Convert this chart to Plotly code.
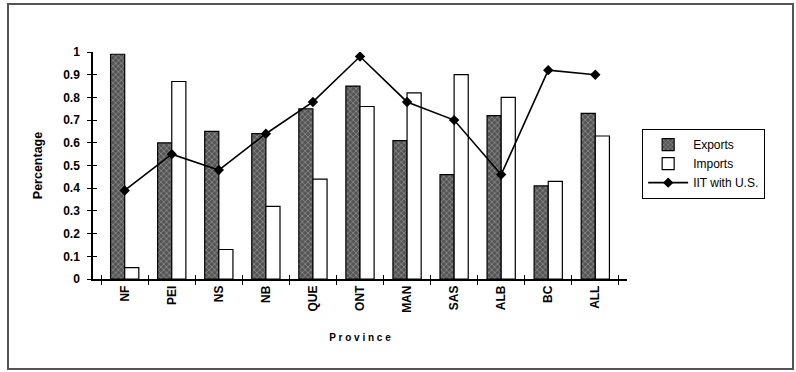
import plotly.graph_objects as go

provinces = ["NF", "PEI", "NS", "NB", "QUE", "ONT", "MAN", "SAS", "ALB", "BC", "ALL"]
exports = [0.99, 0.60, 0.65, 0.64, 0.75, 0.85, 0.61, 0.46, 0.72, 0.41, 0.73]
imports = [0.05, 0.87, 0.13, 0.32, 0.44, 0.76, 0.82, 0.90, 0.80, 0.43, 0.63]
iit_us = [0.39, 0.55, 0.48, 0.64, 0.78, 0.98, 0.78, 0.70, 0.46, 0.92, 0.90]
y_ticks = [0, 0.1, 0.2, 0.3, 0.4, 0.5, 0.6, 0.7, 0.8, 0.9, 1]
y_tick_text = ["0", "0.1", "0.2", "0.3", "0.4", "0.5", "0.6", "0.7", "0.8", "0.9", "1"]

FONT = "Liberation Sans, Arial, sans-serif"

fig = go.Figure()
fig.add_trace(go.Bar(
    x=provinces, y=exports, name="Exports",
    marker=dict(color="#6a6a6a", line=dict(color="black", width=1.2),
                pattern=dict(shape="x", size=4, solidity=0.35,
                             fgcolor="#c8c8c8", bgcolor="#555555")),
))
fig.add_trace(go.Bar(
    x=provinces, y=imports, name="Imports",
    marker=dict(color="white", line=dict(color="black", width=1.2)),
))
fig.add_trace(go.Scatter(
    x=provinces, y=iit_us, name="IIT with U.S.", mode="lines+markers",
    line=dict(color="black", width=1.6),
    marker=dict(symbol="diamond", size=8, color="black"),
))
# invisible trace on the overlay axes so their crossing tick marks render
fig.add_trace(go.Scatter(x=provinces, y=[None] * len(provinces), xaxis="x2", yaxis="y2",
                         showlegend=False, hoverinfo="skip"))

fig.update_layout(
    width=796, height=372,
    margin=dict(l=93, r=169, t=52, b=93, autoexpand=False),
    paper_bgcolor="white", plot_bgcolor="white",
    barmode="group", bargap=0.4, bargroupgap=0,
    font=dict(family=FONT, size=11, color="black"),
    xaxis=dict(
        type="category", tickson="boundaries", ticks="outside", ticklen=4,
        tickwidth=1.2, tickcolor="black", tickangle=-90, automargin=False,
        showline=True, linecolor="black", linewidth=1.5, showgrid=False,
        tickfont=dict(family=FONT, size=12, color="black", weight="bold"),
        title=dict(text="<b>P r o v i n c e</b>", font=dict(family=FONT, size=10), standoff=22),
    ),
    yaxis=dict(
        range=[0, 1.0], tickvals=y_ticks, ticktext=y_tick_text, automargin=False,
        ticks="outside", ticklen=4, tickwidth=1.2, tickcolor="black",
        showline=True, linecolor="black", linewidth=1.5, showgrid=False,
        zeroline=False, ticklabelstandoff=5,
        tickfont=dict(family=FONT, size=12, color="black", weight="bold"),
        title=dict(text="<b>Percentage</b>", font=dict(family=FONT, size=12.5), standoff=18),
    ),
    xaxis2=dict(type="category", overlaying="x", matches="x", tickson="boundaries",
                ticks="inside", ticklen=4, tickwidth=1.2, tickcolor="black",
                showticklabels=False, showgrid=False, showline=False, automargin=False),
    yaxis2=dict(overlaying="y", range=[0, 1.0], tickvals=y_ticks, ticks="inside",
                ticklen=4, tickwidth=1.2, tickcolor="black", showticklabels=False,
                showgrid=False, showline=False, zeroline=False, automargin=False),
    legend=dict(
        x=1.028, y=0.661, xanchor="left", yanchor="top",
        bordercolor="black", borderwidth=1.2, bgcolor="white",
        font=dict(family=FONT, size=12, color="black"),
        tracegroupgap=2, itemwidth=40,
    ),
    shapes=[dict(
        type="rect", xref="paper", yref="paper",
        x0=(8 - 93) / 534, x1=(793 - 93) / 534,
        y0=(279 - 369) / 227, y1=(279 - 4) / 227,
        line=dict(color="#555555", width=2), fillcolor="rgba(0,0,0,0)", layer="below",
    )],
)

fig.write_html("out.html")
